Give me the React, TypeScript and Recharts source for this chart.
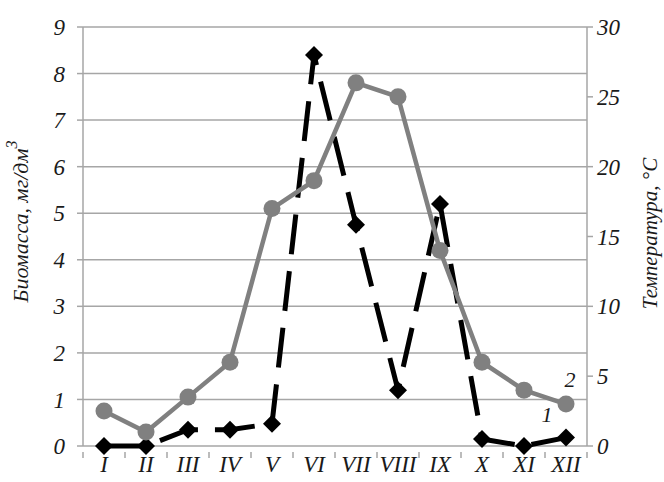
import React from "react";
import { LineChart, Line, XAxis, YAxis, CartesianGrid, LabelList } from "recharts";

const MONTHS = ["I", "II", "III", "IV", "V", "VI", "VII", "VIII", "IX", "X", "XI", "XII"];
// 1 — биомасса, мг/дм3 (левая ось)
const BIOMASS = [0, 0, 0.35, 0.35, 0.48, 8.4, 4.75, 1.2, 5.2, 0.15, 0, 0.18];
// 2 — температура, °C (правая ось)
const TEMPERATURE = [2.5, 1, 3.5, 6, 17, 19, 26, 25, 14, 6, 4, 3];
const BIOMASS_TICKS = [0, 1, 2, 3, 4, 5, 6, 7, 8, 9];
const TEMP_TICKS = [0, 5, 10, 15, 20, 25, 30];

const data = MONTHS.map((m, i) => ({ month: m, biomass: BIOMASS[i], temp: TEMPERATURE[i] }));

const W = 664;
const H = 482;
const LEFT_W = 83;
const RIGHT_W = 77;
const HALF_BAND = (W - LEFT_W - RIGHT_W) / MONTHS.length / 2;

const FONT = "'Liberation Serif', 'DejaVu Serif', serif";
const GRID = "#a6a6a6";
const GRAY = "#808080";
const INK = "#1a1a1a";

const tickStyle = { fill: INK, fontSize: 23, fontStyle: "italic", fontFamily: FONT };

// подпись месяца + засечки на границах интервалов, как в Excel
const MonthTick = (props: any) => {
  const { x, y, payload, index } = props;
  const y0 = y - 4;
  return (
    <g>
      <line x1={x - HALF_BAND} x2={x - HALF_BAND} y1={y0} y2={y0 + 6} stroke={GRID} strokeWidth={1.5} />
      {index === MONTHS.length - 1 && (
        <line x1={x + HALF_BAND} x2={x + HALF_BAND} y1={y0} y2={y0 + 6} stroke={GRID} strokeWidth={1.5} />
      )}
      <text x={x} y={y} dy="0.71em" textAnchor="middle" {...tickStyle}>
        {payload.value}
      </text>
    </g>
  );
};

const Diamond = (props: any) => {
  const { cx, cy, index } = props;
  if (cx == null || cy == null) return <g key={`d-${index}`} />;
  const r = 9;
  return <path key={`d-${index}`} d={`M${cx},${cy - r}L${cx + r},${cy}L${cx},${cy + r}L${cx - r},${cy}Z`} fill="#000" />;
};

const Circle = (props: any) => {
  const { cx, cy, index } = props;
  return <circle key={`c-${index}`} cx={cx} cy={cy} r={8.5} fill={GRAY} />;
};

const seriesTag = (tag: string, dx: number, dy: number) => (props: any) => {
  const { x, y, index } = props;
  if (index !== MONTHS.length - 1) return null;
  return (
    <text x={x + dx} y={y + dy} textAnchor="middle" dominantBaseline="central" fontSize={22} fontStyle="italic" fontFamily={FONT} fill={INK}>
      {tag}
    </text>
  );
};

const leftTitle = (props: any) => {
  const vb = props.viewBox;
  const x = vb.x + 20;
  const y = vb.y + vb.height / 2 - 15;
  return (
    <text x={x} y={y} transform={`rotate(-90 ${x} ${y})`} textAnchor="middle" dominantBaseline="central" fontSize={22} fontStyle="italic" fontFamily={FONT} fill={INK}>
      Биомасса, мг/дм
      <tspan fontSize={16} dy={-9}>3</tspan>
    </text>
  );
};

const rightTitle = (props: any) => {
  const vb = props.viewBox;
  const x = vb.x + 63;
  const y = vb.y + vb.height / 2 - 3;
  return (
    <text x={x} y={y} transform={`rotate(-90 ${x} ${y})`} textAnchor="middle" dominantBaseline="central" fontSize={21} fontStyle="italic" fontFamily={FONT} fill={INK}>
      Температура, °C
    </text>
  );
};

export default function App() {
  return (
    <div style={{ position: "absolute", left: 0, top: 0, background: "#fff" }}>
      <LineChart width={W} height={H} data={data} margin={{ top: 27, right: 0, left: 0, bottom: 0 }}>
        <CartesianGrid yAxisId="left" vertical={false} stroke={GRID} strokeWidth={1.5} />
        <XAxis
          dataKey="month"
          height={36}
          padding={{ left: HALF_BAND, right: HALF_BAND }}
          axisLine={false}
          tickLine={false}
          tick={MonthTick}
          tickMargin={4}
          interval={0}
        />
        <YAxis
          yAxisId="left"
          domain={[0, 9]}
          ticks={BIOMASS_TICKS}
          width={LEFT_W}
          axisLine={{ stroke: GRID, strokeWidth: 1.5 }}
          tickLine={{ stroke: GRID, strokeWidth: 1.5 }}
          tickSize={6}
          tickMargin={12}
          tick={tickStyle}
          label={leftTitle}
        />
        <YAxis
          yAxisId="right"
          orientation="right"
          domain={[0, 30]}
          ticks={TEMP_TICKS}
          width={RIGHT_W}
          axisLine={{ stroke: GRID, strokeWidth: 1.5 }}
          tickLine={{ stroke: GRID, strokeWidth: 1.5 }}
          tickSize={6}
          tickMargin={4}
          tick={tickStyle}
          label={rightTitle}
        />
        <Line
          yAxisId="left"
          dataKey="biomass"
          stroke="#000"
          strokeWidth={5}
          strokeDasharray="40 17"
          dot={Diamond}
          activeDot={false}
          isAnimationActive={false}
        >
          <LabelList dataKey="biomass" content={seriesTag("1", -19, -23)} />
        </Line>
        <Line
          yAxisId="right"
          dataKey="temp"
          stroke={GRAY}
          strokeWidth={4.5}
          dot={Circle}
          activeDot={false}
          isAnimationActive={false}
        >
          <LabelList dataKey="temp" content={seriesTag("2", 4, -25)} />
        </Line>
      </LineChart>
    </div>
  );
}
